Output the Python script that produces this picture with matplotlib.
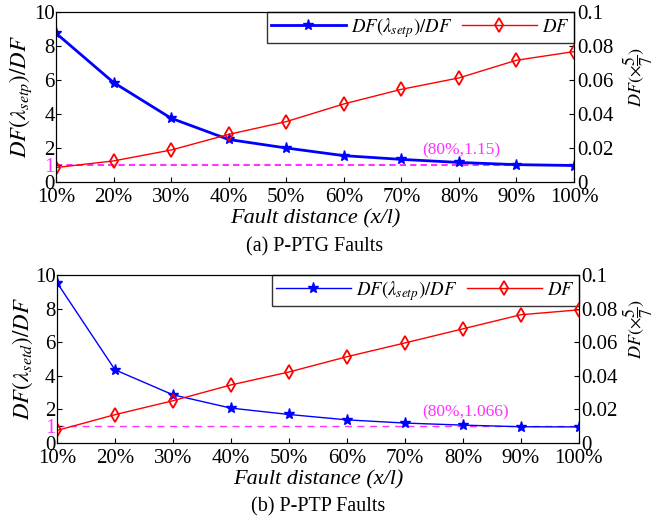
import matplotlib
matplotlib.use("Agg")
import matplotlib.pyplot as plt
import numpy as np

plt.rcParams["font.family"] = ["Liberation Serif", "DejaVu Serif"]
plt.rcParams["mathtext.fontset"] = "stix"
plt.rcParams["xtick.direction"] = "in"
plt.rcParams["ytick.direction"] = "in"

distance = ["10%", "20%", "30%", "40%", "50%", "60%", "70%", "80%", "90%", "100%"]

# (a) P-PTG faults
ratio_ptg = [8.75, 5.85, 3.75, 2.5, 2.0, 1.55, 1.33, 1.15, 1.02, 0.97]
df_ptg = [0.0085, 0.0124, 0.0188, 0.028, 0.0355, 0.0459, 0.0545, 0.0612, 0.0716, 0.0767]

# (b) P-PTP faults
ratio_ptp = [9.55, 4.36, 2.87, 2.08, 1.7, 1.38, 1.19, 1.066, 0.97, 0.96]
df_ptp = [0.0075, 0.0169, 0.0252, 0.0346, 0.0423, 0.0514, 0.0596, 0.068, 0.0764, 0.0793]

MAG = "#ff33ff"
FS = 15

fig = plt.figure(figsize=(6.59, 5.2), dpi=100)


def panel(rect, ratio, df, left_label, note, caption, lw, dash_lw, dash, rlab_xy):
    x = np.arange(1, len(distance) + 1)
    ax = fig.add_axes(rect)
    ax2 = ax.twinx()
    l1, = ax.plot(x, ratio, color="blue", lw=lw, marker="*", ms=8)
    l2, = ax2.plot(x, df, color="red", lw=1, marker="d", ms=7, mfc="none", mew=1.3)
    ax.axhline(1, color=MAG, ls=dash, lw=dash_lw, zorder=1)

    ax.set_xlim(1, 10)
    ax.set_ylim(0, 10)
    ax2.set_ylim(0, 0.1)
    ax.set_xticks(x)
    ax.set_xticklabels(distance, fontsize=FS)
    ax.set_yticks([0, 1, 2, 4, 6, 8, 10])
    ax.set_yticklabels(["0", "1", "2", "4", "6", "8", "10"], fontsize=FS)
    ax.get_yticklabels()[1].set_color(MAG)
    ax.tick_params(axis="y", pad=1)
    ax.tick_params(axis="x", pad=4)
    ax2.set_yticks([0, 0.02, 0.04, 0.06, 0.08, 0.1])
    ax2.set_yticklabels(["0", "0.02", "0.04", "0.06", "0.08", "0.1"], fontsize=FS)
    ax2.tick_params(axis="y", pad=2)

    ax.set_ylabel(left_label, fontsize=16.5, labelpad=0)
    ax2.set_ylabel(r"$DF(\times\dfrac{5}{7})$", fontsize=13)
    ax2.yaxis.set_label_coords(*rlab_xy)
    ax.set_xlabel("Fault distance (x/l)", fontsize=16, style="italic", labelpad=2)
    ax.text(0.5, -0.38, caption, transform=ax.transAxes, ha="center", va="center",
            fontsize=14.5)
    ax.text(8.05, 1.85, note, color=MAG, fontsize=12.5, ha="center", va="center")

    leg = ax.legend([l1, l2], [r"$DF(\lambda_{setp})/DF$", r"$DF$"], loc="upper right",
                    ncol=2, fontsize=13.5, frameon=True, fancybox=False, edgecolor="black",
                    handlelength=4, handletextpad=0.3, borderaxespad=0,
                    columnspacing=0.5, borderpad=0.2)
    leg.get_frame().set_linewidth(1.0)
    for a in (ax, ax2):
        for s in a.spines.values():
            s.set_color("black")


panel([0.085, 0.65, 0.786, 0.327], ratio_ptg, df_ptg,
      r"$DF(\lambda_{setp})/DF$", "(80%,1.15)", "(a) P-PTG Faults",
      2.0, 1.5, (0, (3, 2)), (1.09, 0.62))
panel([0.0865, 0.148, 0.792, 0.323], ratio_ptp, df_ptp,
      r"$DF(\lambda_{setd})/DF$", "(80%,1.066)", "(b) P-PTP Faults",
      1.0, 1.0, (0, (5, 4)), (1.08, 0.68))

fig.savefig("out.png", dpi=100)
